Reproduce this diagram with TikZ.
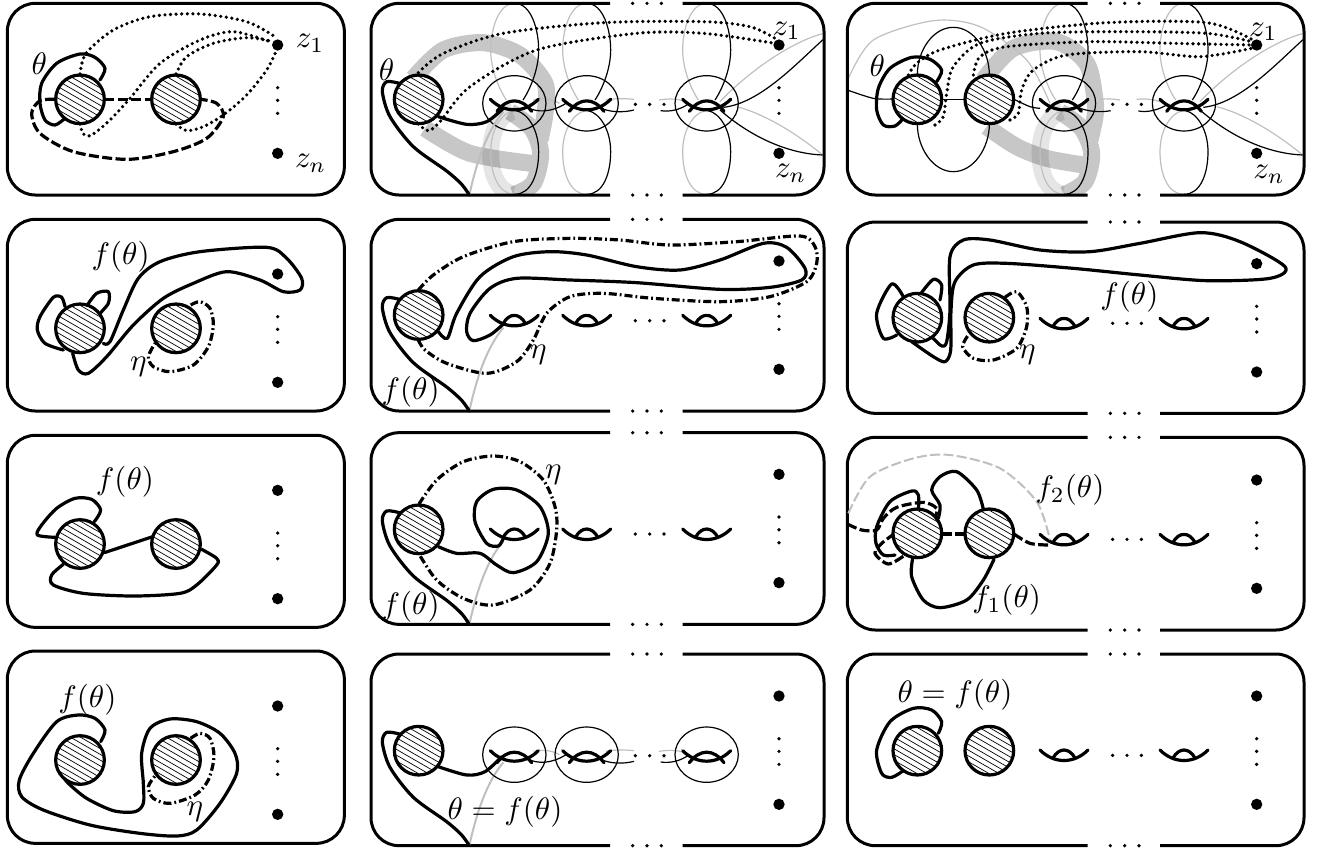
\documentclass[tikz,border=0pt]{standalone}
\usetikzlibrary{calc}

\tikzset{
	bold/.style={line width=1.6pt,line cap=round,line join=round},
	thinline/.style={line width=0.6pt},
	thingray/.style={line width=0.6pt,black!25},
	stemgray/.style={line width=1pt,black!25},
	band/.style={line width=8.5pt,black!22},
	lightband/.style={line width=8.5pt,black,opacity=0.1},
	rim/.style={line width=1.5pt,rounded corners=14pt},
	hatch/.style={line width=0.35pt},
	dotline/.style={line width=1.8pt,line cap=round,dash pattern=on 0pt off 2.8pt},
	dashline/.style={line width=1.6pt,dash pattern=on 5pt off 1.7pt},
	graydash/.style={line width=1pt,black!25,dash pattern=on 5pt off 1.7pt},
	dashdot/.style={line width=1.6pt,dash pattern=on 4pt off 1.5pt on 0.9pt off 1.5pt},
	lab/.style={scale=1.55,inner sep=0pt}
}

\newcommand\disk[2]{
	\begin{scope}[shift={(#1,#2)}]
		\fill [white] (0,0) circle (73);
		\begin{scope}
			\clip (0,0) circle (73);
			\foreach \h in {-75,-60,...,75}
				\draw [hatch,rotate=-30] (-80,\h) -- (80,\h);
		\end{scope}
		\draw [bold] (0,0) circle (73);
	\end{scope}
}
\newcommand\punctures[2]{
	\fill (#1,#2) circle (17);
	\fill (#1,#2+325) circle (17);
	\foreach \h in {128,166,205}
		\fill (#1,#2+\h) circle (5.5);
}
\newcommand\handle[2]{
	\begin{scope}[shift={(#1,#2)}]
		\draw [bold] (-72,0) .. controls (-30,42) and (30,42) .. (72,0);
		\draw [bold] (-33,24) .. controls (-15,-8) and (15,-8) .. (33,24);
	\end{scope}
}
\newcommand\ringhandle[2]{
	\begin{scope}[shift={(#1,#2)}]
		\draw [thinline] (0,12) ellipse (95 and 83);
		\draw [bold] (-72,0) .. controls (-30,42) and (30,42) .. (72,0);
		\draw [bold] (-52,36) .. controls (-20,-6) and (20,-6) .. (52,36);
	\end{scope}
}
\newcommand\hdots[3]{
	\foreach \h in {0,43,86}
		\fill (#1+\h,#2) circle (#3);
}
\newcommand\closedpanel[2]{
	\draw [rim,rounded corners=14pt] (22,#1) rectangle (1033,#2);
}
\newcommand\openpanel[6]{
	\draw [rim] (#2,#5) -- (#1,#5) -- (#1,#6) -- (#2,#6);
	\draw [rim] (#3,#5) -- (#4,#5) -- (#4,#6) -- (#3,#6);
	\hdots{#2+68}{#5}{5.5}
	\hdots{#2+68}{#6}{5.5}
}
\newcommand\finstem[1]{
	\draw [stemgray] (298,#1) .. controls (320,#1-100) and (350,#1-190) .. (400,#1-250);
	\draw [bold] plot [smooth] coordinates {(88,#1-335) (50,#1-340) (37,#1-310) (60,#1-235) (130,#1-145) (230,#1-72) (275,#1-32) (298,#1)};
}
\newcommand\petals[1]{
	\begin{scope}[shift={(#1,0)}]
		\draw [thingray] (0,10) .. controls (-50,10) and (-72,90) .. (-72,150) .. controls (-72,210) and (-45,270) .. (-25,300);
		\draw [thinline] (0,10) .. controls (50,10) and (72,90) .. (72,150) .. controls (72,210) and (45,270) .. (25,300);
		\draw [thingray] (0,583) .. controls (-50,583) and (-72,520) .. (-72,455) .. controls (-72,390) and (-40,340) .. (-5,332);
		\draw [thinline] (0,583) .. controls (50,583) and (72,520) .. (72,455) .. controls (72,390) and (40,340) .. (5,332);
	\end{scope}
}
\newcommand\wings[1]{
	\begin{scope}[shift={(#1-1362,0)}]
		\draw [thingray] (1050,305) .. controls (1120,230) and (1250,130) .. (1360,100);
		\draw [thinline] (1060,322) .. controls (1170,310) and (1280,190) .. (1360,118);
		\draw [thingray] (1100,320) .. controls (1180,340) and (1280,400) .. (1358,465);
		\draw [thinline] (1050,330) .. controls (1130,400) and (1240,460) .. (1358,465);
	\end{scope}
}
\newcommand\bandloop[1]{
	\begin{scope}[shift={(#1,0)}]
		\draw [lightband] (-5,335) .. controls (-50,345) and (-72,400) .. (-72,460) .. controls (-72,520) and (-50,575) .. (-5,582);
	\end{scope}
}
\newcommand\threadlink[2]{
	\begin{scope}[shift={(#1,#2)}]
		\draw [thingray] (57,2) .. controls (80,-3) and (110,-3) .. (135,12);
		\draw [thinline] (37,24) .. controls (70,40) and (110,40) .. (155,12);
	\end{scope}
}
\newcommand\threadopen[2]{
	\begin{scope}[shift={(#1,#2)}]
		\draw [thingray] (57,2) .. controls (85,-3) and (110,-3) .. (142,0);
		\draw [thinline] (37,24) .. controls (70,40) and (110,40) .. (142,32);
		\draw [thingray] (217,2) .. controls (250,-3) and (280,-3) .. (308,12);
		\draw [thinline] (222,34) .. controls (250,38) and (280,32) .. (308,12);
	\end{scope}
}

\begin{document}
\begin{tikzpicture}[x=0.5pt,y=-0.5pt]
	\useasboundingbox (0,0) rectangle (1321,848);

	\begin{scope}[shift={(0,0)},scale=1/3]
		\closedpanel{10}{585}
		\punctures{833}{135}
		\draw [dotline] plot [smooth] coordinates {(240,222) (258,160) (340,90) (450,50) (600,42) (740,65) (825,110)};
		\draw [dotline] plot [smooth] coordinates {(240,372) (250,402) (275,405) (330,360) (390,295) (480,190) (600,120) (700,95) (810,125)};
		\draw [dotline] plot [smooth] coordinates {(528,222) (560,170) (640,130) (740,113) (820,125)};
		\draw [dotline] plot [smooth] coordinates {(528,372) (560,392) (610,380) (670,345) (740,285) (800,210) (830,150)};
		\draw [dashline] (313,298) -- (455,298);
		\draw [dashline] plot [smooth] coordinates {(165,298) (120,302) (95,340) (120,400) (220,455) (380,478) (520,455) (620,415) (670,350) (650,310) (603,298)};
		\draw [bold] plot [smooth] coordinates {(300,240) (315,205) (285,172) (240,162) (170,190) (125,250) (120,310) (135,360) (165,375) (195,355)};
		\disk{240}{298}
		\disk{528}{298}
		\node [lab] (t11) at (118,190) {$\theta$};
		\node [lab] (za11) at (930,130) {$z_1$};
		\node [lab] (zb11) at (932,490) {$z_n$};
	\end{scope}

	\begin{scope}[shift={(0,210)},scale=1/3]
		\closedpanel{28}{603}
		\punctures{833}{192}
		\draw [bold] plot [smooth] coordinates {(195,290) (185,262) (160,262) (120,320) (112,360) (135,400) (190,420)};
		\draw [bold] plot [smooth] coordinates {(262,285) (290,250) (325,245) (325,280) (295,315)};
		\draw [bold] plot [smooth] coordinates {(310,400) (330,395) (370,300) (415,205) (480,155) (600,125) (800,112) (860,145) (905,205) (900,240) (850,245) (780,210) (680,185) (580,220) (490,265) (400,345) (320,440) (265,490) (235,480) (218,430)};
		\draw [dashdot] plot [smooth] coordinates {(572,285) (600,275) (630,295) (640,345) (625,410) (580,465) (510,485) (460,470) (445,440) (465,400)};
		\disk{240}{355}
		\disk{528}{355}
		\node [lab] (f21) at (362,140) {$f(\theta)$};
		\node [lab] (e21) at (415,470) {$\eta$};
	\end{scope}

	\begin{scope}[shift={(0,430)},scale=1/3]
		\closedpanel{16}{592}
		\punctures{833}{181}
		\draw [bold] plot [smooth] coordinates {(283,275) (302,240) (275,208) (225,205) (170,235) (125,285) (112,315) (165,322)};
		\draw [bold] (313,368) -- (458,320);
		\draw [bold] plot [smooth] coordinates {(190,403) (155,435) (160,465) (250,490) (400,498) (540,490) (590,465) (650,405) (650,385) (605,358)};
		\disk{240}{342}
		\disk{528}{342}
		\node [lab] (f31) at (375,155) {$f(\theta)$};
	\end{scope}

	\begin{scope}[shift={(0,640)},scale=1/3]
		\closedpanel{33}{610}
		\punctures{833}{198}
		\draw [bold] plot [smooth] coordinates {(302,305) (315,270) (285,235) (235,225) (170,245) (100,340) (58,420) (65,470) (130,510) (270,555) (420,580) (530,588) (590,570) (660,490) (710,400) (705,340) (660,280) (590,245) (510,237) (450,265) (425,340) (430,430) (430,490) (405,515) (340,512) (260,475) (205,430) (190,410)};
		\draw [dashdot] plot [smooth] coordinates {(572,295) (600,280) (630,295) (642,350) (625,420) (585,465) (510,490) (460,475) (445,440) (465,408)};
		\disk{240}{360}
		\disk{528}{360}
		\node [lab] (f41) at (262,180) {$f(\theta)$};
		\node [lab] (e41) at (585,515) {$\eta$};
	\end{scope}

	\begin{scope}[shift={(370,0)},scale=1/3]
		\begin{scope}
			\clip (0,0) rectangle (1400,585);
			\draw [band] plot [smooth] coordinates {(130,235) (220,150) (340,128) (450,165) (525,250) (525,340) (510,420)};
			\draw [band] plot [smooth] coordinates {(420,335) (485,385) (512,460) (490,550) (430,585)};
			\draw [band] plot [smooth] coordinates {(165,385) (300,460) (500,492)};
			\bandloop{434}
		\end{scope}
		\petals{434}
		\petals{650}
		\petals{1010}
		\wings{1362}
		\threadlink{433}{298}
		\threadopen{650}{298}
		\ringhandle{433}{298}
		\ringhandle{650}{298}
		\ringhandle{1010}{298}
		\openpanel{3}{720}{938}{1362}{10}{585}
		\punctures{1227}{135}
		\hdots{796}{313}{5.5}
		\draw [dotline] plot [smooth] coordinates {(145,218) (220,160) (400,100) (700,68) (1000,65) (1140,80) (1215,115)};
		\draw [dotline] plot [smooth] coordinates {(145,372) (175,392) (210,365) (300,260) (500,150) (800,100) (1000,100) (1215,130)};
		\finstem{585}
		\draw [bold] plot [smooth] coordinates {(205,350) (290,373) (350,365) (400,325)};
		\disk{146}{298}
		\node [lab] (t12) at (50,210) {$\theta$};
		\node [lab] (za12) at (1250,92) {$z_1$};
		\node [lab] (zb12) at (1262,520) {$z_n$};
	\end{scope}

	\begin{scope}[shift={(370,210)},scale=1/3]
		\openpanel{3}{720}{938}{1362}{28}{603}
		\punctures{1227}{153}
		\hdots{796}{332}{5.5}
		\finstem{603}
		\handle{433}{316}
		\handle{650}{316}
		\handle{1010}{316}
		\draw [dashdot] plot [smooth] coordinates {(145,240) (190,195) (280,140) (430,95) (600,85) (750,90) (900,105) (1100,95) (1290,78) (1335,110) (1340,160) (1310,215) (1200,260) (1050,275) (850,265) (700,250) (600,260) (530,310) (490,390) (440,455) (350,490) (230,460) (165,420) (145,390)};
		\draw [bold] plot [smooth] coordinates {(205,365) (232,385) (260,310) (330,200) (430,140) (540,125) (650,135) (800,170) (930,180) (1050,150) (1180,100) (1250,112) (1305,175) (1295,210) (1200,232) (1050,238) (800,218) (600,210) (440,205) (360,235) (300,310) (290,365) (310,392) (360,375) (400,342)};
		\disk{146}{315}
		\node [lab] (f22) at (122,545) {$f(\theta)$};
		\node [lab] (e22) at (505,435) {$\eta$};
	\end{scope}

	\begin{scope}[shift={(370,430)},scale=1/3]
		\openpanel{3}{720}{938}{1362}{8}{583}
		\punctures{1227}{133}
		\hdots{796}{312}{5.5}
		\finstem{583}
		\handle{433}{297}
		\handle{650}{297}
		\handle{1010}{297}
		\draw [dashdot] plot [smooth] coordinates {(147,222) (200,150) (280,95) (370,78) (450,95) (520,150) (555,230) (560,300) (540,400) (480,480) (370,525) (280,505) (200,450) (147,372)};
		\draw [bold] plot [smooth] coordinates {(205,350) (260,370) (330,370) (380,405) (430,428) (500,395) (535,310) (510,230) (440,180) (370,178) (320,215) (315,275) (350,340) (385,348) (400,325)};
		\disk{146}{298}
		\node [lab] (e32) at (550,135) {$\eta$};
		\node [lab] (f32) at (122,530) {$f(\theta)$};
	\end{scope}

	\begin{scope}[shift={(370,640)},scale=1/3]
		\openpanel{3}{720}{938}{1362}{42}{617}
		\punctures{1227}{168}
		\hdots{796}{347}{5.5}
		\finstem{617}
		\threadlink{433}{332}
		\threadopen{650}{332}
		\ringhandle{433}{332}
		\ringhandle{650}{332}
		\ringhandle{1010}{332}
		\draw [bold] plot [smooth] coordinates {(205,380) (290,405) (345,395) (395,350)};
		\disk{146}{332}
		\node [lab] (f42) at (405,515) {$\theta=f(\theta)$};
	\end{scope}

	\begin{scope}[shift={(840,0)},scale=1/3]
		\begin{scope}
			\clip (0,0) rectangle (1400,585);
			\draw [band] plot [smooth] coordinates {(430,240) (520,145) (650,125) (740,190) (765,300) (765,350) (750,420)};
			\draw [band] plot [smooth] coordinates {(660,335) (725,385) (755,460) (735,545) (672,585)};
			\draw [band] plot [smooth] coordinates {(440,380) (530,440) (620,475) (730,495)};
			\bandloop{672}
		\end{scope}
		\petals{672}
		\petals{1032}
		\wings{1392}
		\draw [thingray] plot [smooth] coordinates {(25,235) (100,120) (280,62) (420,80) (560,180) (630,310)};
		\draw [thinline] plot [smooth] coordinates {(22,270) (100,295) (160,297)};
		\draw [thinline] (305,298) -- (375,298);
		\draw [thinline] plot [smooth] coordinates {(522,298) (570,320) (600,325)};
		\draw [thinline] (232,225) .. controls (232,150) and (280,82) .. (340,82) .. controls (400,82) and (448,150) .. (448,225);
		\draw [thinline] (232,372) .. controls (232,445) and (280,515) .. (340,515) .. controls (400,515) and (448,445) .. (448,372);
		\draw [thingray] (780,298) .. controls (800,295) and (820,297) .. (840,300);
		\draw [thinline] (712,322) .. controls (745,335) and (780,338) .. (812,332);
		\draw [thingray] (890,298) .. controls (920,295) and (960,298) .. (985,320);
		\draw [thinline] (895,333) .. controls (925,338) and (955,330) .. (985,312);
		\ringhandle{672}{298}
		\ringhandle{1032}{298}
		\openpanel{22}{743}{960}{1392}{10}{585}
		\punctures{1250}{135}
		\hdots{818}{313}{5.5}
		\draw [dotline] plot [smooth] coordinates {(205,225) (230,190) (300,150) (500,100) (800,68) (1100,68) (1235,118)};
		\draw [dotline] plot [smooth] coordinates {(285,375) (310,350) (320,280) (340,200) (420,130) (600,100) (850,95) (1100,100) (1235,125)};
		\draw [dotline] plot [smooth] coordinates {(400,225) (420,170) (500,140) (750,125) (1000,130) (1235,135)};
		\draw [dotline] plot [smooth] coordinates {(510,360) (535,340) (545,270) (580,210) (680,165) (900,155) (1080,170) (1235,145)};
		\draw [bold] plot [smooth] coordinates {(290,245) (305,210) (270,178) (215,172) (150,205) (115,265) (110,330) (130,375) (165,378) (190,355)};
		\disk{232}{298}
		\disk{448}{298}
		\node [lab] (t13) at (112,197) {$\theta$};
		\node [lab] (za13) at (1270,95) {$z_1$};
		\node [lab] (zb13) at (1287,522) {$z_n$};
	\end{scope}

	\begin{scope}[shift={(840,210)},scale=1/3]
		\openpanel{22}{743}{960}{1392}{36}{610}
		\punctures{1250}{161}
		\hdots{818}{340}{5.5}
		\handle{672}{325}
		\handle{1032}{325}
		\draw [bold] plot [smooth] coordinates {(190,260) (155,222) (110,310) (130,385) (170,375)};
		\draw [bold] plot [smooth] coordinates {(243,250) (280,208) (305,225) (300,270)};
		\draw [bold] plot [smooth] coordinates {(280,385) (305,408) (320,395) (330,300) (330,140) (370,90) (450,90) (600,120) (750,125) (900,100) (1080,68) (1200,95) (1335,170) (1290,205) (1100,212) (900,195) (700,175) (500,160) (400,165) (345,215) (333,300) (332,420) (315,455) (280,440) (215,395)};
		\draw [dashdot] plot [smooth] coordinates {(495,262) (530,245) (560,290) (560,350) (530,415) (460,450) (400,445) (368,410) (385,375)};
		\disk{232}{323}
		\disk{448}{323}
		\node [lab] (f23) at (868,260) {$f(\theta)$};
		\node [lab] (e23) at (562,435) {$\eta$};
	\end{scope}

	\begin{scope}[shift={(840,430)},scale=1/3]
		\openpanel{22}{743}{960}{1392}{22}{600}
		\punctures{1250}{150}
		\hdots{818}{328}{5.5}
		\handle{672}{313}
		\handle{1032}{313}
		\draw [graydash] plot [smooth] coordinates {(25,250) (90,140) (220,85) (330,75) (480,115) (590,215) (630,330)};
		\draw [bold] plot [smooth] coordinates {(218,385) (215,440) (250,510) (300,533) (380,510) (430,450) (462,388)};
		\draw [bold] plot [smooth] coordinates {(430,238) (410,180) (350,125) (300,140) (275,180) (300,225) (295,265)};
		\draw [bold] plot [smooth] coordinates {(235,245) (235,195) (215,183) (150,215) (110,290) (108,340) (130,375) (165,375)};
		\draw [dashline] plot [smooth] coordinates {(22,282) (65,300) (110,300) (130,265) (170,232) (250,217) (290,235) (285,262)};
		\draw [dashline] plot [smooth] coordinates {(165,310) (125,340) (105,370) (145,402) (195,375)};
		\draw [dashline] (305,312) -- (375,312);
		\draw [dashline] plot [smooth] coordinates {(522,312) (570,340) (625,345)};
		\disk{232}{310}
		\disk{448}{310}
		\node [lab] (g23) at (690,180) {$f_2(\theta)$};
		\node [lab] (g13) at (500,510) {$f_1(\theta)$};
	\end{scope}

	\begin{scope}[shift={(840,640)},scale=1/3]
		\openpanel{22}{743}{960}{1392}{42}{617}
		\punctures{1250}{168}
		\hdots{818}{346}{5.5}
		\handle{672}{330}
		\handle{1032}{330}
		\draw [bold] plot [smooth] coordinates {(295,280) (305,245) (275,210) (220,205) (150,245) (110,330) (125,400) (155,412) (190,392)};
		\disk{232}{332}
		\disk{448}{332}
		\node [lab] (f43) at (345,165) {$\theta=f(\theta)$};
	\end{scope}
\end{tikzpicture}
\end{document}
